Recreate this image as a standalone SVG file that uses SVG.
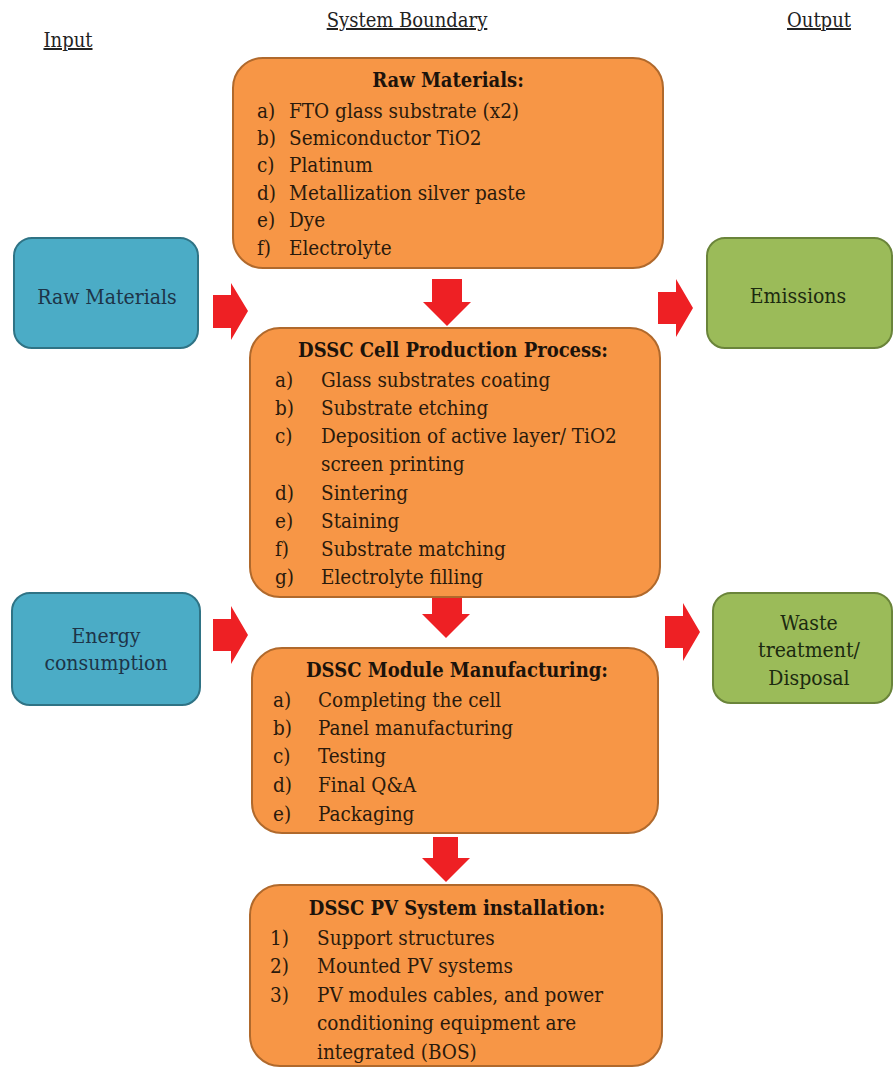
<svg xmlns="http://www.w3.org/2000/svg" width="894" height="1069" viewBox="0 0 894 1069">
<style>
  text { font-family: 'DejaVu Serif Condensed', 'DejaVu Serif', serif; font-stretch: condensed; }
  .hdr { font-size: 20px; fill: #222; text-decoration: underline; }
  .org { fill: #F79646; stroke: #B0692C; stroke-width: 2; }
  .blu { fill: #4BACC6; stroke: #2F7385; stroke-width: 2; }
  .grn { fill: #9BBB59; stroke: #6A843A; stroke-width: 2; }
  .ttl { font-size: 20px; font-weight: bold; fill: #1c130b; text-anchor: middle; }
  .itm { font-size: 20.5px; fill: #2a1a0c; }
  .side { font-size: 21px; text-anchor: middle; }
  .arr { fill: #EE2024; }
</style>
<rect width="894" height="1069" fill="#ffffff"/>

<g id="headers">
  <text class="hdr" x="68" y="47" text-anchor="middle">Input</text>
  <text class="hdr" x="407" y="27" text-anchor="middle">System Boundary</text>
  <text class="hdr" x="819" y="27" text-anchor="middle">Output</text>
</g>

<g id="connectors">
  <polygon class="arr" points="432,279 462,279 462,302 471,302 447,326 423,302 432,302"/>
  <polygon class="arr" points="432,597 462,597 462,614 470,614 446,638 422,614 432,614"/>
  <polygon class="arr" points="433,837 458,837 458,858 470,858 446,882 422,858 433,858"/>
  <polygon class="arr" points="213,295 231,295 231,283 248,311 231,340 231,328 213,328"/>
  <polygon class="arr" points="213,619 231,619 231,606 248,635 231,664 231,651 213,651"/>
  <polygon class="arr" points="658,292 676,292 676,279 693,308 676,337 676,324 658,324"/>
  <polygon class="arr" points="665,616 683,616 683,603 700,632 683,661 683,648 665,648"/>
</g>

<g id="raw-materials-input">
  <rect class="blu" x="14" y="238" width="184" height="110" rx="18"/>
  <text class="side" x="107" y="304" fill="#1d3448">Raw Materials</text>
</g>

<g id="energy-consumption">
  <rect class="blu" x="12" y="593" width="188" height="112" rx="18"/>
  <text class="side" x="106" y="643" fill="#1d3448">Energy</text>
  <text class="side" x="106" y="670" fill="#1d3448">consumption</text>
</g>

<g id="emissions">
  <rect class="grn" x="707" y="238" width="185" height="110" rx="18"/>
  <text class="side" x="798" y="303" fill="#1c2a10">Emissions</text>
</g>

<g id="waste">
  <rect class="grn" x="713" y="593" width="179" height="110" rx="18"/>
  <text class="side" x="809" y="630" fill="#1c2a10">Waste</text>
  <text class="side" x="809" y="657" fill="#1c2a10">treatment/</text>
  <text class="side" x="809" y="685" fill="#1c2a10">Disposal</text>
</g>

<g id="raw-materials">
  <rect class="org" x="233" y="58" width="430" height="210" rx="30"/>
  <text class="ttl" x="448" y="87">Raw Materials:</text>
  <text class="itm" x="257" y="118">a)<tspan x="289">FTO glass substrate (x2)</tspan></text>
  <text class="itm" x="257" y="145">b)<tspan x="289">Semiconductor TiO2</tspan></text>
  <text class="itm" x="257" y="172">c)<tspan x="289">Platinum</tspan></text>
  <text class="itm" x="257" y="200">d)<tspan x="289">Metallization silver paste</tspan></text>
  <text class="itm" x="257" y="227">e)<tspan x="289">Dye</tspan></text>
  <text class="itm" x="257" y="255">f)<tspan x="289">Electrolyte</tspan></text>
</g>

<g id="cell-production">
  <rect class="org" x="250" y="328" width="410" height="269" rx="30"/>
  <text class="ttl" x="453" y="357">DSSC Cell Production Process:</text>
  <text class="itm" x="275" y="387">a)<tspan x="321">Glass substrates coating</tspan></text>
  <text class="itm" x="275" y="415">b)<tspan x="321">Substrate etching</tspan></text>
  <text class="itm" x="275" y="443">c)<tspan x="321">Deposition of active layer/ TiO2</tspan></text>
  <text class="itm" x="321" y="471">screen printing</text>
  <text class="itm" x="275" y="500">d)<tspan x="321">Sintering</tspan></text>
  <text class="itm" x="275" y="528">e)<tspan x="321">Staining</tspan></text>
  <text class="itm" x="275" y="556">f)<tspan x="321">Substrate matching</tspan></text>
  <text class="itm" x="275" y="584">g)<tspan x="321">Electrolyte filling</tspan></text>
</g>

<g id="module-manufacturing">
  <rect class="org" x="252" y="648" width="406" height="185" rx="30"/>
  <text class="ttl" x="457" y="677">DSSC Module Manufacturing:</text>
  <text class="itm" x="273" y="707">a)<tspan x="318">Completing the cell</tspan></text>
  <text class="itm" x="273" y="735">b)<tspan x="318">Panel manufacturing</tspan></text>
  <text class="itm" x="273" y="763">c)<tspan x="318">Testing</tspan></text>
  <text class="itm" x="273" y="792">d)<tspan x="318">Final Q&amp;A</tspan></text>
  <text class="itm" x="273" y="821">e)<tspan x="318">Packaging</tspan></text>
</g>

<g id="pv-installation">
  <rect class="org" x="250" y="885" width="412" height="181" rx="30"/>
  <text class="ttl" x="457" y="915">DSSC PV System installation:</text>
  <text class="itm" x="270" y="945">1)<tspan x="317">Support structures</tspan></text>
  <text class="itm" x="270" y="973">2)<tspan x="317">Mounted PV systems</tspan></text>
  <text class="itm" x="270" y="1002">3)<tspan x="317">PV modules cables, and power</tspan></text>
  <text class="itm" x="317" y="1030">conditioning equipment are</text>
  <text class="itm" x="317" y="1059">integrated (BOS)</text>
</g>
</svg>
